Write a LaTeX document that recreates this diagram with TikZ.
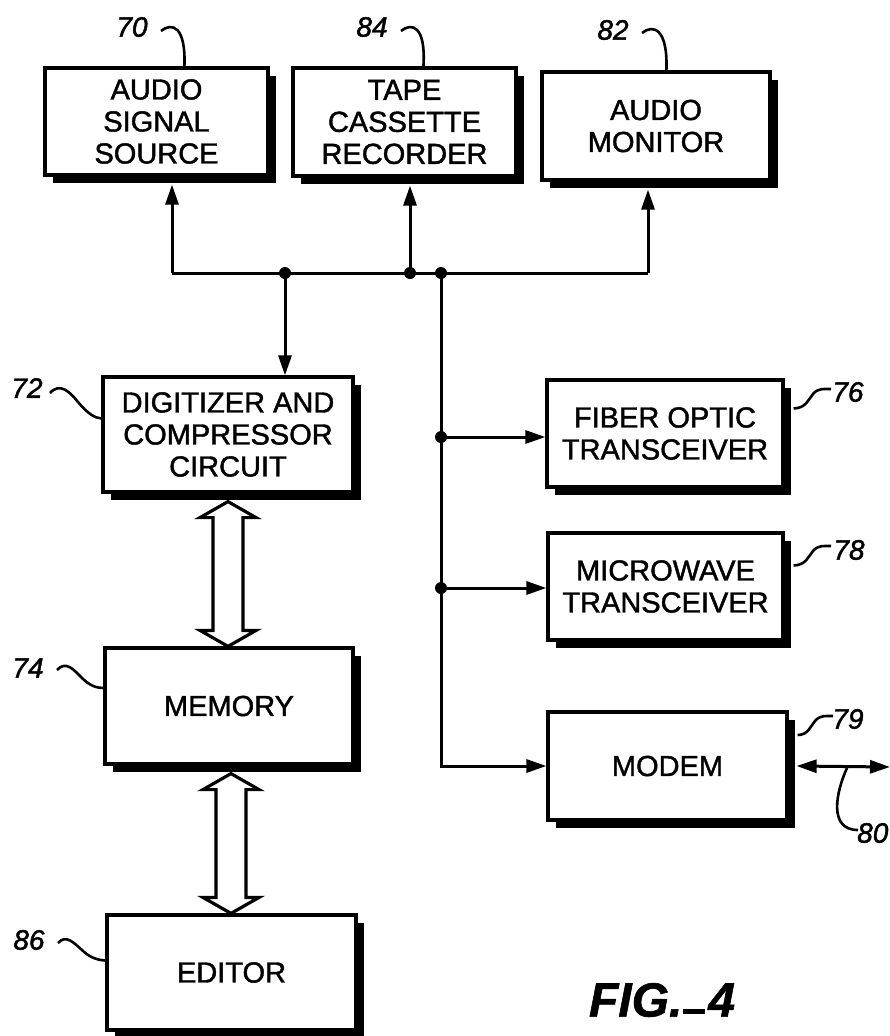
\documentclass[tikz,border=0pt]{standalone}
\usepackage{fontspec}
\setmainfont{Liberation Sans}[FakeBold=1.2]
\newfontfamily\boxfont{Liberation Sans}[FakeBold=1.4]
\newfontfamily\lblfont{Liberation Sans Italic}[FakeBold=1.6]
\usetikzlibrary{arrows.meta,calc,shadows}
\newcommand\fatarr[2]{%
  \draw[fatstyle] let \p1=(#1), \p2=(#2) in
    (\x1,\y1) -- (\x1+28pt,\y1-16pt) -- (\x1+15pt,\y1-16pt) -- (\x1+15pt,\y2+16pt)
    -- (\x1+28pt,\y2+16pt) -- (\x1,\y2) -- (\x1-28pt,\y2+16pt) -- (\x1-15pt,\y2+16pt)
    -- (\x1-15pt,\y1-16pt) -- (\x1-28pt,\y1-16pt) -- cycle;}
\begin{document}
\begin{tikzpicture}[x=1pt,y=-1pt,
  blk/.style={draw, line width=3.2pt, fill=white, inner sep=0pt, align=center,
    font=\boxfont\fontsize{29}{32}\selectfont,
    drop shadow={shadow xshift=7.5pt, shadow yshift=-7.5pt, fill=black, opacity=1}},
  conn/.style={line width=3pt},
  arr/.style={-{Triangle[length=20pt,width=13pt]}},
  darr/.style={{Triangle[length=20pt,width=13pt]}-{Triangle[length=20pt,width=13pt]}},
  fatstyle/.style={line width=3.2pt, fill=white, line join=miter},
  lead/.style={line width=2.6pt},
  lbl/.style={font=\lblfont\fontsize{28}{28}\selectfont, inner sep=1pt},
  dot/.style={circle, fill=black, inner sep=0pt, minimum size=12pt}]
\useasboundingbox (0,0) rectangle (890,1036);
\fill[white] (0,0) rectangle (890,1036);

% boxes
\node[blk, minimum width=223pt, minimum height=107pt] (src) at (156.5,121.5) {AUDIO\\SIGNAL\\SOURCE};
\node[blk, minimum width=223pt, minimum height=108pt] (tape) at (404.5,122) {TAPE\\CASSETTE\\RECORDER};
\node[blk, minimum width=228pt, minimum height=108pt] (mon) at (656,126) {AUDIO\\MONITOR};
\node[blk, minimum width=250pt, minimum height=115pt] (dig) at (228,434.5) {DIGITIZER AND\\COMPRESSOR\\CIRCUIT};
\node[blk, minimum width=248pt, minimum height=116pt] (mem) at (229,706) {MEMORY};
\node[blk, minimum width=249pt, minimum height=115pt] (edit) at (231.5,972.5) {EDITOR};
\node[blk, minimum width=236pt, minimum height=107pt] (fib) at (665,433.5) {FIBER OPTIC\\TRANSCEIVER};
\node[blk, minimum width=235pt, minimum height=107pt] (mic) at (665.5,586.5) {MICROWAVE\\TRANSCEIVER};
\node[blk, minimum width=239pt, minimum height=108pt] (mod) at (667.5,766) {MODEM};

% bus coordinates
\coordinate (b1) at (172,273);
\coordinate (b2) at (410,273);
\coordinate (b4) at (648,273);
\coordinate (j1) at (285,273);
\coordinate (j3) at (441,273);
\coordinate (j4) at (441,437);
\coordinate (j5) at (441,588);
\coordinate (e80) at (890,767);

\draw[conn] (b1) -- (b4);
\draw[conn,arr] (b1) -- ($(src.south -| b1)+(0,-8pt)$);
\draw[conn,arr] (b2) -- ($(tape.south -| b2)+(0,-8pt)$);
\draw[conn,arr] (b4) -- ($(mon.south -| b4)+(0,-8pt)$);
\draw[conn,arr] (j1) -- (dig.north -| j1);
\draw[conn,arr] (j3) |- (mod.west);
\draw[conn,arr] (j4) -- (j4 -| fib.west);
\draw[conn,arr] (j5) -- (j5 -| mic.west);
\draw[conn,darr] ($(mod.east)+(8pt,0)$) -- (e80);

\node[dot] (d1) at (j1) {};
\node[dot] (d2) at (b2) {};
\node[dot] (d3) at (j3) {};
\node[dot] (d4) at (j4) {};
\node[dot] (d5) at (j5) {};

% fat bidirectional arrows
\fatarr{$(dig.south)+(0,-8pt)$}{mem.north}
\fatarr{$(mem.south)+(2pt,-8pt)$}{edit.north}

% reference labels
\node[lbl] (n70) at (132,27) {70};
\node[lbl] (n84) at (372,27) {84};
\node[lbl] (n82) at (613,30) {82};
\node[lbl] (n72) at (27,388) {72};
\node[lbl] (n74) at (28,668) {74};
\node[lbl] (n86) at (29,940) {86};
\node[lbl] (n76) at (848,392) {76};
\node[lbl] (n78) at (849,550) {78};
\node[lbl] (n79) at (848,719) {79};
\node[lbl, anchor=west] (n80) at (856,833) {80};

\draw[lead] (161,31) .. controls (172,22) and (186,26) .. ([xshift=141pt]src.north west);
\draw[lead] (401,31) .. controls (412,22) and (426,26) .. ([xshift=132pt]tape.north west);
\draw[lead] (642,33) .. controls (653,24) and (668,28) .. ([xshift=126pt]mon.north west);
\draw[lead] (50,393) .. controls (60,382) and (70,392) .. (78,402) .. controls (88,414) and (95,418) .. ([yshift=16pt]dig.west);
\draw[lead] (57,670) .. controls (66,660) and (74,670) .. (82,678) .. controls (90,686) and (97,688) .. ([yshift=18pt]mem.west);
\draw[lead] (58,943) .. controls (66,934) and (74,943) .. (82,950) .. controls (90,958) and (98,960) .. ([yshift=12pt]edit.west);
\draw[lead] ([xshift=9pt,yshift=25pt]fib.east) .. controls (806,408) and (808,400) .. (813,394) .. controls (818,388) and (824,389) .. (831,389);
\draw[lead] ([xshift=9pt,yshift=21pt]mic.east) .. controls (806,565) and (808,557) .. (813,551) .. controls (818,545) and (824,546) .. (831,546);
\draw[lead] ([xshift=9pt,yshift=31pt]mod.east) .. controls (808,735) and (810,727) .. (815,721) .. controls (820,715) and (826,716) .. (833,716);
\draw[lead] (847,768) .. controls (836,792) and (828,830) .. (858,830);

\node[font=\fontsize{48}{48}\selectfont\bfseries\itshape] (fig) at (662,1000) {FIG.\kern1pt\rule[3pt]{22pt}{5pt}\kern3pt4};
\end{tikzpicture}
\end{document}
